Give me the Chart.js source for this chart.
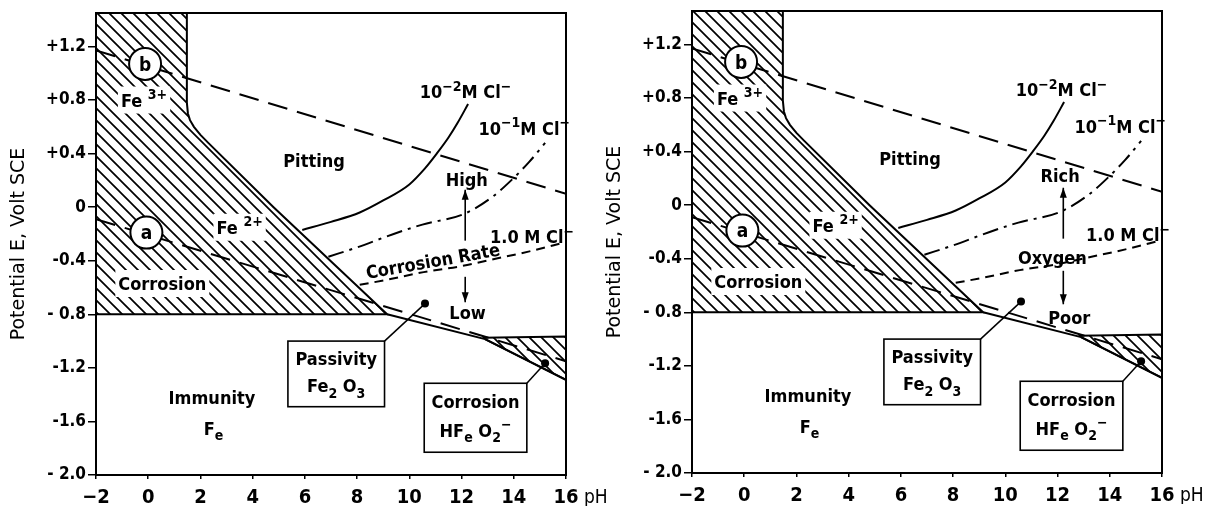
<!DOCTYPE html>
<html><head><meta charset="utf-8">
<script src="https://cdn.jsdelivr.net/npm/chart.js@4.4.1/dist/chart.umd.min.js"></script>
<style>
html,body{margin:0;padding:0;background:#fff;width:1205px;height:506px;overflow:hidden;position:relative}
.p{position:absolute;width:609px;height:506px}
</style></head>
<body>
<div class="p" style="left:0;top:0"><canvas id="c1" width="609" height="506"></canvas></div>
<div class="p" style="left:596px;top:-2px"><canvas id="c2" width="609" height="506"></canvas></div>
<script>
// ---------- axis ticks ----------
const phTicks = [-2, 0, 2, 4, 6, 8, 10, 12, 14, 16];
const eTicks = [-2.0, -1.6, -1.2, -0.8, -0.4, 0, 0.4, 0.8, 1.2];
const eTickLabels = ['- 2.0', '-1.6', '-1.2', '- 0.8', '-0.4', '0', '+0.4', '+0.8', '+1.2'];

// ---------- hatched corrosion field Fe3+/Fe2+ (pH, E) ----------
const acidPH = [-2, 1.48, 1.48, 1.52, 1.6, 1.75, 2.0, 2.3, 4.8, 9.15, -2];
const acidE  = [1.45, 1.45, 0.78, 0.70, 0.65, 0.60, 0.54, 0.48, 0.0, -0.80, -0.80];
// ---------- hatched alkaline corrosion field HFeO2- ----------
const alkPH = [12.8, 16, 16, 12.9];
const alkE  = [-0.975, -0.965, -1.29, -0.985];
// ---------- immunity boundary beyond the acid field ----------
const immPH = [9.15, 12.9, 16];
const immE  = [-0.80, -0.985, -1.29];
// ---------- water lines a (H2) and b (O2) ----------
const lineAPH = [-2, 16];
const lineAE  = [-0.09, -1.15];
const lineBPH = [-2, 16];
const lineBE  = [1.17, 0.10];
// ---------- pitting potentials ----------
const cl2PH = [5.9, 7.0, 8.1, 9.0, 10.0, 10.6, 11.05, 11.5, 11.85, 12.25];
const cl2E  = [-0.17, -0.11, -0.04, 0.05, 0.17, 0.29, 0.40, 0.52, 0.63, 0.77];
const cl1PH = [6.9, 8.0, 9.4, 10.5, 12.1, 13.2, 13.9, 14.6, 15.2];
const cl1E  = [-0.37, -0.30, -0.20, -0.13, -0.05, 0.08, 0.20, 0.34, 0.48];
const cl0PH = [8.1, 9.2, 10.55, 12.0, 13.3, 14.6, 16.0];
const cl0E  = [-0.58, -0.54, -0.485, -0.44, -0.385, -0.33, -0.26];

const NARROW = "'DejaVu Sans Condensed','Liberation Sans Narrow',sans-serif";
const pts = (xs, ys) => xs.map((x, i) => ({x, y: ys[i]}));

function hatch(ctx) {
  const s = 12, c = document.createElement('canvas');
  c.width = s; c.height = s;
  const g = c.getContext('2d');
  g.strokeStyle = '#000'; g.lineWidth = 1.7;
  g.beginPath();
  g.moveTo(-2, -2); g.lineTo(s + 2, s + 2);
  g.moveTo(-s / 2 - 2, s / 2 - 2); g.lineTo(s / 2 + 2, s * 1.5 + 2);
  g.moveTo(s / 2 - 2, -s / 2 - 2); g.lineTo(s * 1.5 + 2, s / 2 + 2);
  g.stroke();
  return ctx.createPattern(c, 'repeat');
}

function drawRich(ctx, parts, x, y, size, bold, bg) {
  const w = bold ? 'bold ' : '';
  const segs = parts.map(p => {
    const kind = p[1] || 'n';
    const fs = kind === 'n' ? size : size * 0.78;
    ctx.font = w + fs + 'px ' + NARROW;
    return {t: p[0], kind, fs, w: ctx.measureText(p[0]).width};
  });
  const total = segs.reduce((a, s) => a + s.w, 0);
  if (bg) { ctx.fillStyle = '#fff'; ctx.fillRect(x - total / 2 - 3, y - size * 0.75, total + 6, size * 1.5); }
  let cx = x - total / 2;
  ctx.fillStyle = '#000'; ctx.textAlign = 'left'; ctx.textBaseline = 'alphabetic';
  const base = y + size * 0.36;
  for (const s of segs) {
    ctx.font = w + s.fs + 'px ' + NARROW;
    let dy = 0;
    if (s.kind === 'sup') dy = -size * 0.42;
    if (s.kind === 'sub') dy = size * 0.32;
    ctx.fillText(s.t, cx, base + dy);
    cx += s.w;
  }
}

function arrow(ctx, x, y0, y1) {
  ctx.beginPath(); ctx.moveTo(x, y0); ctx.lineTo(x, y1); ctx.lineWidth = 1.6; ctx.strokeStyle = '#000'; ctx.stroke();
  const d = y1 < y0 ? 1 : -1;
  ctx.beginPath(); ctx.moveTo(x, y1); ctx.lineTo(x - 3.5, y1 + d * 10); ctx.lineTo(x + 3.5, y1 + d * 10); ctx.closePath();
  ctx.fillStyle = '#000'; ctx.fill();
}

const common = {
  circles: [{t: 'b', x: -0.12, y: 1.07}, {t: 'a', x: -0.07, y: -0.19}],
  labels: [
    {p: [['Pitting']], x: 6.35, y: 0.35},
    {p: [['Fe '], ['3+', 'sup']], x: -0.16, y: 0.80, bg: true},
    {p: [['Fe '], ['2+', 'sup']], x: 3.5, y: -0.15, bg: true},
    {p: [['Corrosion']], x: 0.54, y: -0.57, bg: true},
    {p: [['10'], ['−2', 'sup'], ['M Cl'], ['−', 'sup']], x: 12.15, y: 0.86},
    {p: [['10'], ['−1', 'sup'], ['M Cl'], ['−', 'sup']], x: 14.4, y: 0.59},
    {p: [['1.0 M Cl'], ['−', 'sup']], x: 14.7, y: -0.22},
    {p: [['Immunity']], x: 2.44, y: -1.42},
    {p: [['F'], ['e', 'sub']], x: 2.5, y: -1.65},
  ],
  boxes: [
    {x0: 5.35, x1: 9.05, y0: -1.0, y1: -1.49, lines: [[['Passivity']], [['Fe'], ['2', 'sub'], [' O'], ['3', 'sub']]],
     lead: [9.05, -1.0], dot: [10.6, -0.72]},
    {x0: 10.57, x1: 14.5, y0: -1.315, y1: -1.83, lines: [[['Corrosion']], [['HF'], ['e', 'sub'], [' O'], ['2', 'sub'], ['−', 'sup']]],
     lead: [14.5, -1.315], dot: [15.2, -1.165]},
  ]
};
const panel1 = {
  extra: [{p: [['High']], x: 12.2, y: 0.21}, {p: [['Low']], x: 12.23, y: -0.79}],
  rot: {p: [['Corrosion Rate']], x: 10.9, y: -0.40, a: -10},
  arrows: [{x: 12.14, y0: -0.25, y1: 0.13}, {x: 12.14, y0: -0.52, y1: -0.71}]
};
const panel2 = {
  extra: [{p: [['Rich']], x: 12.1, y: 0.22}, {p: [['Oxygen']], x: 11.8, y: -0.39}, {p: [['Poor']], x: 12.45, y: -0.84}],
  rot: null,
  arrows: [{x: 12.22, y0: -0.25, y1: 0.13}, {x: 12.22, y0: -0.49, y1: -0.74}]
};

function decor(panel) {
  return {
    id: 'decor',
    afterDatasetsDraw(chart) {
      const ctx = chart.ctx, xs = chart.scales.x, ys = chart.scales.y, ca = chart.chartArea;
      const X = v => xs.getPixelForValue(v), Y = v => ys.getPixelForValue(v);
      ctx.save();
      ctx.strokeStyle = '#000'; ctx.lineWidth = 2;
      ctx.strokeRect(ca.left, ca.top, ca.right - ca.left, ca.bottom - ca.top);
      for (const c of common.circles) {
        ctx.beginPath(); ctx.arc(X(c.x), Y(c.y), 16, 0, Math.PI * 2);
        ctx.fillStyle = '#fff'; ctx.fill(); ctx.lineWidth = 2; ctx.strokeStyle = '#000'; ctx.stroke();
        drawRich(ctx, [[c.t]], X(c.x), Y(c.y), 19, true);
      }
      for (const l of common.labels.concat(panel.extra)) drawRich(ctx, l.p, X(l.x), Y(l.y), 18, true, l.bg);
      if (panel.rot) {
        ctx.save(); ctx.translate(X(panel.rot.x), Y(panel.rot.y)); ctx.rotate(panel.rot.a * Math.PI / 180);
        drawRich(ctx, panel.rot.p, 0, 0, 18, true); ctx.restore();
      }
      for (const a of panel.arrows) arrow(ctx, X(a.x), Y(a.y0), Y(a.y1));
      for (const b of common.boxes) {
        ctx.beginPath(); ctx.moveTo(X(b.lead[0]), Y(b.lead[1])); ctx.lineTo(X(b.dot[0]), Y(b.dot[1]));
        ctx.lineWidth = 1.5; ctx.strokeStyle = '#000'; ctx.stroke();
        ctx.beginPath(); ctx.arc(X(b.dot[0]), Y(b.dot[1]), 4, 0, Math.PI * 2); ctx.fillStyle = '#000'; ctx.fill();
        const x0 = X(b.x0), x1 = X(b.x1), y0 = Y(b.y0), y1 = Y(b.y1);
        ctx.fillStyle = '#fff'; ctx.fillRect(x0, y0, x1 - x0, y1 - y0);
        ctx.lineWidth = 1.6; ctx.strokeRect(x0, y0, x1 - x0, y1 - y0);
        const h = (y1 - y0);
        drawRich(ctx, b.lines[0], (x0 + x1) / 2, y0 + h * 0.27, 18, true);
        drawRich(ctx, b.lines[1], (x0 + x1) / 2, y0 + h * 0.68, 18, true);
      }
      ctx.font = '19px ' + NARROW; ctx.fillStyle = '#000'; ctx.textAlign = 'left'; ctx.textBaseline = 'middle';
      ctx.fillText('pH', X(16) + 18, ca.bottom + 23);
      ctx.restore();
    }
  };
}

function makeChart(id, panel) {
  const el = document.getElementById(id), ctx = el.getContext('2d');
  const pat = hatch(ctx);
  const line = (xs, ys, extra) => Object.assign({data: pts(xs, ys), showLine: true, pointRadius: 0,
    borderColor: '#000', borderWidth: 2, fill: false, tension: 0}, extra || {});
  return new Chart(ctx, {
    type: 'scatter',
    data: {datasets: [
      line(cl2PH, cl2E, {cubicInterpolationMode: 'monotone'}),
      line(cl1PH, cl1E, {cubicInterpolationMode: 'monotone', borderDash: [16, 6, 3, 6]}),
      line(cl0PH, cl0E, {cubicInterpolationMode: 'monotone', borderDash: [9, 6]}),
      line(lineBPH, lineBE, {borderDash: [20, 10]}),
      line(lineAPH, lineAE, {borderDash: [20, 10]}),
      line(immPH, immE),
      line(alkPH, alkE, {fill: 'shape', backgroundColor: pat}),
      line(acidPH, acidE, {fill: 'shape', backgroundColor: pat}),
    ]},
    options: {
      responsive: false, animation: false, events: [],
      layout: {padding: {left: 0, right: 43, top: 13, bottom: 0}},
      plugins: {legend: {display: false}, tooltip: {enabled: false}},
      scales: {
        x: {type: 'linear', min: -2, max: 16,
          afterFit(a) { a.height = 31; },
          afterBuildTicks(a) { a.ticks = phTicks.map(v => ({value: v})); },
          ticks: {color: '#000', padding: 7, maxRotation: 0, autoSkip: false,
            font: {family: NARROW, size: 20, weight: 'bold'},
            callback: v => (v < 0 ? '−' : '') + Math.abs(v)},
          grid: {drawOnChartArea: false, tickLength: 4, color: '#000', lineWidth: 1.5},
          border: {color: '#000', width: 2}},
        y: {type: 'linear', min: -2.0, max: 1.45,
          afterFit(a) { a.width = 96; },
          afterBuildTicks(a) { a.ticks = eTicks.map(v => ({value: v})); },
          ticks: {color: '#000', padding: 2, font: {family: NARROW, size: 17, weight: 'bold'},
            callback: v => { let i = eTicks.findIndex(t => Math.abs(t - v) < 1e-6); return i < 0 ? '' : eTickLabels[i]; }},
          grid: {drawOnChartArea: false, tickLength: 8, color: '#000', lineWidth: 1.5},
          border: {color: '#000', width: 2},
          title: {display: true, text: 'Potential E, Volt SCE', color: '#000', padding: {top: 8, bottom: 0},
            font: {family: "'DejaVu Sans',sans-serif", size: 19}}}
      }
    },
    plugins: [decor(panel)]
  });
}
makeChart('c1', panel1);
makeChart('c2', panel2);
</script>
</body></html>
